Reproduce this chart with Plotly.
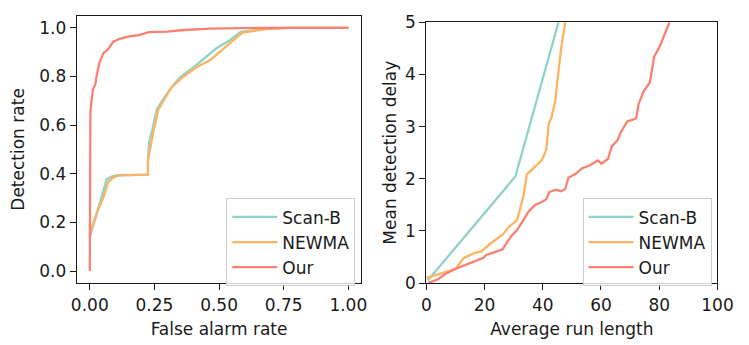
import plotly.graph_objects as go

# ---------------- data: left panel (ROC) ----------------
scanb_far = [0.0, 0.0025, 0.027, 0.046, 0.065, 0.084, 0.102, 0.225, 0.225, 0.23, 0.24, 0.259, 0.277,
             0.315, 0.352, 0.402, 0.452, 0.49, 0.54, 0.584, 0.652, 0.752, 1.0]
scanb_dr = [0.14, 0.15, 0.235, 0.31, 0.377, 0.388, 0.393, 0.396, 0.455, 0.533, 0.572, 0.663, 0.695,
            0.754, 0.799, 0.838, 0.883, 0.916, 0.948, 0.983, 0.993, 1.0, 1.0]

newma_far = [0.0, 0.0025, 0.027, 0.052, 0.071, 0.09, 0.109, 0.225, 0.225, 0.234, 0.246, 0.265, 0.284,
             0.315, 0.352, 0.415, 0.465, 0.502, 0.54, 0.59, 0.677, 0.777, 1.0]
newma_dr = [0.14, 0.163, 0.24, 0.30, 0.365, 0.384, 0.393, 0.396, 0.455, 0.507, 0.572, 0.663, 0.70,
            0.754, 0.79, 0.84, 0.867, 0.90, 0.935, 0.98, 0.995, 1.0, 1.0]

our_far = [0.0, 0.0, 0.0025, 0.012, 0.021, 0.027, 0.0375, 0.0525, 0.071, 0.09, 0.115, 0.153, 0.19,
           0.228, 0.30, 0.352, 0.465, 0.65, 1.0]
our_dr = [0.0, 0.63, 0.66, 0.747, 0.766, 0.805, 0.857, 0.896, 0.912, 0.942, 0.955, 0.965, 0.97,
          0.982, 0.984, 0.99, 0.997, 1.0, 1.0]

# ---------------- data: right panel (ARL vs delay) ----------------
scanb_arl = [0.5, 30.6, 45.4]
scanb_delay = [0.05, 2.045, 5.0]

newma_arl = [0.0, 10.0, 12.8, 16.2, 18.9, 22.3, 26.2, 28.4, 31.2, 33.4, 34.5, 37.3, 39.5, 40.1,
             41.2, 42.1, 42.9, 44.2, 45.1, 46.2, 47.7]
newma_delay = [0.1, 0.27, 0.48, 0.57, 0.61, 0.77, 0.93, 1.08, 1.21, 1.68, 2.08, 2.23, 2.35, 2.41,
               2.56, 3.07, 3.16, 3.46, 3.97, 4.45, 5.0]

our_arl = [0.5, 3.9, 6.7, 10.6, 13.9, 16.7, 19.5, 20.6, 23.4, 26.2, 29.0, 31.2, 32.9, 35.1, 37.3,
           39.5, 41.2, 42.3, 44.6, 46.2, 47.7, 48.8, 51.2, 53.4, 56.2, 59.0, 60.1, 62.4, 63.7,
           65.7, 66.8, 69.0, 70.7, 72.1, 72.9, 74.6, 76.8, 78.2, 80.2, 81.1, 82.2, 83.5]
our_delay = [0.0, 0.07, 0.18, 0.29, 0.36, 0.42, 0.48, 0.54, 0.59, 0.65, 0.89, 1.02, 1.17, 1.37, 1.50,
             1.55, 1.61, 1.75, 1.79, 1.76, 1.80, 2.02, 2.09, 2.20, 2.26, 2.35, 2.29, 2.38, 2.62,
             2.74, 2.89, 3.10, 3.13, 3.16, 3.43, 3.67, 3.85, 4.33, 4.54, 4.66, 4.81, 5.0]

series_names = ["Scan-B", "NEWMA", "Our"]
colors = ["#8dd3c7", "#fdb462", "#fb8072"]

left_x_ticks = [0.0, 0.25, 0.5, 0.75, 1.0]
left_x_ticktext = ["0.00", "0.25", "0.50", "0.75", "1.00"]
left_y_ticks = [0.0, 0.2, 0.4, 0.6, 0.8, 1.0]
left_y_ticktext = ["0.0", "0.2", "0.4", "0.6", "0.8", "1.0"]
right_x_ticks = [0, 20, 40, 60, 80, 100]
right_y_ticks = [0, 1, 2, 3, 4, 5]

W, H = 749, 345
FONT = "DejaVu Sans"
FS = 17
INK = "#1a1a1a"

fig = go.Figure()
left = [(scanb_far, scanb_dr), (newma_far, newma_dr), (our_far, our_dr)]
right = [(scanb_arl, scanb_delay), (newma_arl, newma_delay), (our_arl, our_delay)]
for (x, y), name, c in zip(left, series_names, colors):
    fig.add_trace(go.Scatter(x=x, y=y, mode="lines", name=name, line=dict(color=c, width=2.3),
                             xaxis="x", yaxis="y", legend="legend"))
for (x, y), name, c in zip(right, series_names, colors):
    fig.add_trace(go.Scatter(x=x, y=y, mode="lines", name=name, line=dict(color=c, width=2.3),
                             xaxis="x2", yaxis="y2", legend="legend2"))

def px_x(p):
    return p / W

def px_y(p):
    return 1 - p / H

axis_common = dict(showline=True, mirror=True, linecolor=INK, linewidth=1.2, ticks="outside",
                   ticklen=6, tickwidth=1.2, tickcolor=INK, showgrid=False, zeroline=False,
                   tickfont=dict(family=FONT, size=FS, color=INK))

legend_common = dict(xanchor="left", yanchor="top", bgcolor="rgba(255,255,255,0.8)",
                     bordercolor="#cccccc", borderwidth=1, font=dict(family=FONT, size=FS, color=INK),
                     tracegroupgap=0, itemwidth=45)

fig.update_layout(
    width=W, height=H, margin=dict(l=0, r=0, t=0, b=0),
    paper_bgcolor="white", plot_bgcolor="white",
    font=dict(family=FONT, size=FS, color=INK),
    xaxis=dict(domain=[px_x(73), px_x(366)], range=[-0.05, 1.05], tickvals=left_x_ticks,
               ticktext=left_x_ticktext, anchor="y",
               title=dict(text="False alarm rate", standoff=9, font=dict(family=FONT, size=FS, color=INK)),
               **axis_common),
    yaxis=dict(domain=[px_y(290), px_y(6)], range=[-0.05, 1.05], tickvals=left_y_ticks,
               ticktext=left_y_ticktext, anchor="x",
               title=dict(text="Detection rate", standoff=10, font=dict(family=FONT, size=FS, color=INK)),
               **axis_common),
    xaxis2=dict(domain=[px_x(433), px_x(733)], range=[0, 100], tickvals=right_x_ticks, anchor="y2",
                title=dict(text="Average run length", standoff=9, font=dict(family=FONT, size=FS, color=INK)),
                **axis_common),
    yaxis2=dict(domain=[px_y(290), px_y(13)], range=[0, 5], tickvals=right_y_ticks, anchor="x2",
                title=dict(text="Mean detection delay", standoff=3, font=dict(family=FONT, size=FS, color=INK)),
                **axis_common),
    legend=dict(x=px_x(227), y=px_y(200), **legend_common),
    legend2=dict(x=px_x(594), y=px_y(200), **legend_common),
)

fig.write_html("out.html")
